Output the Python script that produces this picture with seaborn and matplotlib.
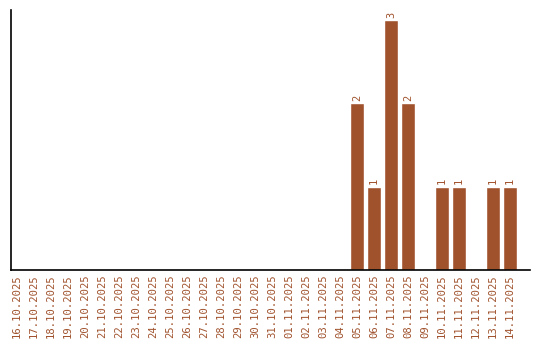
import matplotlib
matplotlib.use("Agg")
import matplotlib.pyplot as plt
import seaborn as sns
import pandas as pd

dates = ["16.10.2025", "17.10.2025", "18.10.2025", "19.10.2025", "20.10.2025",
         "21.10.2025", "22.10.2025", "23.10.2025", "24.10.2025", "25.10.2025",
         "26.10.2025", "27.10.2025", "28.10.2025", "29.10.2025", "30.10.2025",
         "31.10.2025", "01.11.2025", "02.11.2025", "03.11.2025", "04.11.2025",
         "05.11.2025", "06.11.2025", "07.11.2025", "08.11.2025", "09.11.2025",
         "10.11.2025", "11.11.2025", "12.11.2025", "13.11.2025", "14.11.2025"]
counts = [0, 0, 0, 0, 0, 0, 0, 0, 0, 0,
          0, 0, 0, 0, 0, 0, 0, 0, 0, 0,
          2, 1, 3, 2, 0, 1, 1, 0, 1, 1]

color = "#A0522D"
df = pd.DataFrame({"date": dates, "count": counts})

sns.set_style("white")
plt.rcParams['font.family'] = ['DejaVu Sans Mono']

fig = plt.figure(figsize=(5.4, 3.4), dpi=100)
ax = fig.add_axes([11/540, 1 - 270/340, (530-11)/540, (270-10)/340])
sns.barplot(data=df, x="date", y="count", color=color, width=0.82,
            saturation=1, ax=ax)

for i, v in enumerate(counts):
    if v > 0:
        ax.text(i, v + 0.03, str(v), rotation=90, ha="center", va="bottom",
                color=color, fontsize=7.5)

ax.set_xlim(-0.35, 30.18)
ax.set_ylim(0, 3.12)
ax.set_xlabel("")
ax.set_ylabel("")
ax.set_yticks([])
ax.tick_params(axis="x", length=0, pad=3, labelsize=7.6, labelcolor=color)
for lab in ax.get_xticklabels():
    lab.set_rotation(90)
for s in ["top", "right"]:
    ax.spines[s].set_visible(False)
for s in ["left", "bottom"]:
    ax.spines[s].set_color("black")
    ax.spines[s].set_linewidth(1.2)

fig.savefig("out.png", dpi=100)
